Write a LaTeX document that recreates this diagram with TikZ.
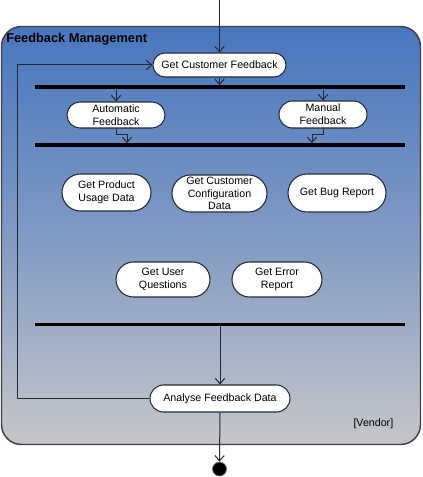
\documentclass[tikz,border=0pt]{standalone}
\usepackage{fontspec}
\setmainfont{Liberation Sans}
\usetikzlibrary{arrows.meta,shapes.misc}
\definecolor{topblue}{RGB}{72,118,190}
\definecolor{midblue}{RGB}{128,154,196}
\definecolor{botgray}{RGB}{198,198,200}
\definecolor{lineclr}{RGB}{35,40,55}
\tikzset{
  act/.style={rounded rectangle, draw=lineclr, line width=0.8pt, fill=white, inner sep=0pt,
    align=center, font=\fontsize{8}{9.6}\selectfont},
  barnode/.style={rectangle, fill=black, inner sep=0pt, minimum width=277.5pt, minimum height=2.4pt},
  arr/.style={draw=lineclr, line width=0.75pt, -{Straight Barb[length=4pt,width=7pt]}},
  conn/.style={draw=lineclr, line width=0.75pt},
}
\begin{document}
\begin{tikzpicture}[x=0.75pt,y=-0.75pt]
\useasboundingbox (0,0) rectangle (422,477);
% container
\path[top color=topblue, bottom color=botgray, middle color=midblue, shading angle=0]
  (1.5,26.5) [rounded corners=15pt] rectangle (420.5,444.5);
\draw[line width=1.1pt, draw=black!75, rounded corners=15pt] (1.5,26.5) rectangle (420.5,444.5);
\node[anchor=west, font=\fontsize{9.6}{11}\selectfont\bfseries, inner sep=0pt] (title) at (6,39) {Feedback Management};
\node[anchor=east, font=\fontsize{8}{9}\selectfont, inner sep=0pt] (vendor) at (393.5,424) {[Vendor]};

% activities
\node[act, minimum width=99.75pt, minimum height=18pt] (gcf) at (219.5,65) {Get Customer Feedback};
\node[barnode] (fork1) at (220,87) {};
\node[act, minimum width=73.5pt, minimum height=19.5pt] (af) at (116,115) {Automatic\\Feedback};
\node[act, minimum width=66pt, minimum height=20.25pt] (mf) at (323,114.5) {Manual\\Feedback};
\node[barnode] (join1) at (220,145) {};
\node[act, minimum width=66.75pt, minimum height=27.75pt] (gpud) at (106.5,192.5) {Get Product\\Usage Data};
\node[act, minimum width=71.25pt, minimum height=27.75pt, font=\fontsize{8}{9.4}\selectfont] (gccd) at (219.5,193.5) {Get Customer\\Configuration\\Data};
\node[act, minimum width=73.5pt, minimum height=28.5pt] (gbr) at (337,193) {Get Bug Report};
\node[act, minimum width=70.5pt, minimum height=26.25pt] (guq) at (163,279.5) {Get User\\Questions};
\node[act, minimum width=67.5pt, minimum height=26.25pt] (ger) at (277,279.5) {Get Error\\Report};
\node[barnode] (join2) at (220,324.5) {};
\node[act, minimum width=105pt, minimum height=20.25pt] (afd) at (220,398.5) {Analyse Feedback Data};
\node[circle, fill=black, draw=black!55, line width=0.6pt, minimum size=10.5pt, inner sep=0pt] (fin) at (219.5,469) {};

% connectors
\coordinate (start) at (219.5,0);
\draw[arr] (start) -- (gcf.north);
\draw[arr] (gcf.south) -- (gcf.south |- fork1.north);
\draw[arr] (af.north |- fork1.south) -- (af.north);
\draw[arr] (mf.north |- fork1.south) -- (mf.north);
\coordinate (ja) at (127,135);
\coordinate (jb) at (312,135);
\draw[arr] (af.south) |- (ja) -- (ja |- join1.north);
\draw[arr] (mf.south) |- (jb) -- (jb |- join1.north);
\draw[arr] (afd.north |- join2.south) -- (afd.north);
\coordinate (lp) at (17,65);
\draw[arr] (afd.west) -| (lp) -- (gcf.west);
\draw[arr] (afd.south) -- (fin.north);
\end{tikzpicture}
\end{document}
